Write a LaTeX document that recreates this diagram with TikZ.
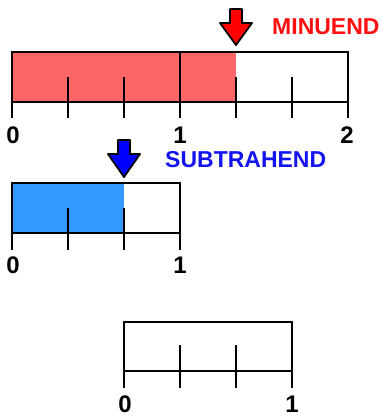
\documentclass[tikz,border=0pt]{standalone}
\usepackage{fontspec}
\setmainfont{Liberation Sans}
\usepackage{tikz}
\usetikzlibrary{positioning}
\definecolor{minuendfill}{HTML}{FF6666}
\definecolor{subfill}{HTML}{3399FF}
\definecolor{minuendred}{HTML}{FF1010}
\definecolor{subblue}{HTML}{1414F0}
\tikzset{
  barbox/.style={draw=black, line width=2.4pt},
  tickline/.style={draw=black, line width=1.4pt},
  numlabel/.style={font=\fontsize{24}{24}\selectfont\bfseries, inner sep=0pt},
  taglabel/.style={font=\fontsize{23}{23}\selectfont\bfseries, inner sep=0pt, anchor=west},
  pointer/.style={draw=black, line width=1.8pt, line join=round},
}
\newcommand{\pointerat}[4]{%
  \filldraw[pointer, fill=#4] (#1-6,#2) -- (#1+6,#2) -- (#1+6,#2+14) -- (#1+16,#2+14)
    -- (#1,#3) -- (#1-16,#2+14) -- (#1-6,#2+14) -- cycle;}

\begin{document}
\begin{tikzpicture}[x=1pt, y=-1pt]
  \useasboundingbox (0,0) rectangle (381,416);

  % minuend bar
  \fill[minuendfill] (12,52) rectangle (236,102);
  \foreach \x in {12,68,124,236,292,348} \draw[tickline] (\x,77) -- (\x,118);
  \draw[tickline] (180,52) -- (180,118);
  \draw[barbox] (12,52) rectangle (348,102);
  \node[numlabel] (m0) at (13,135) {0};
  \node[numlabel] (m1) at (180,135) {1};
  \node[numlabel] (m2) at (347,135) {2};
  \pointerat{236}{9}{45}{red}
  \node[taglabel, text=minuendred] (minuend) at (272,27) {MINUEND};

  % subtrahend bar
  \fill[subfill] (12,183) rectangle (124,233);
  \foreach \x in {12,68,124,180} \draw[tickline] (\x,208) -- (\x,250);
  \draw[barbox] (12,183) rectangle (180,233);
  \node[numlabel] (s0) at (13,265) {0};
  \node[numlabel] (s1) at (180,265) {1};
  \pointerat{124}{140}{177}{blue}
  \node[taglabel, text=subblue] (subtrahend) at (165,160) {SUBTRAHEND};

  % difference bar
  \foreach \x in {124,180,236,292} \draw[tickline] (\x,345) -- (\x,388);
  \draw[barbox] (124,322) rectangle (292,371);
  \node[numlabel] (d0) at (125,404) {0};
  \node[numlabel] (d1) at (292,404) {1};
\end{tikzpicture}
\end{document}
